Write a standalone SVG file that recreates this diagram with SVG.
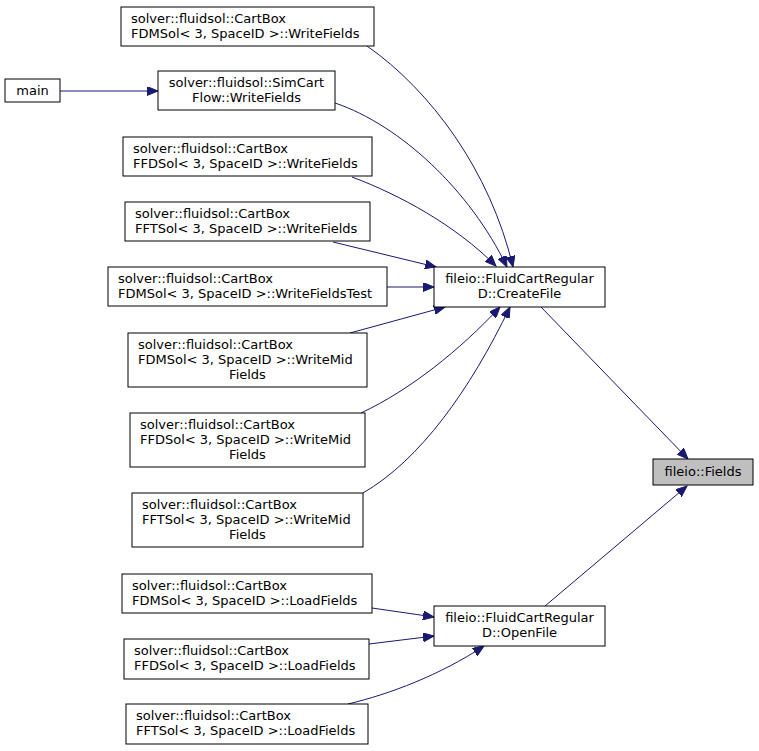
<svg xmlns="http://www.w3.org/2000/svg" width="759" height="751" viewBox="0 0 759 751">
<style>
.n rect{fill:#ffffff;stroke:#000000;stroke-width:1}
.n text{font-family:"DejaVu Sans",sans-serif;font-size:13px;fill:#000000}
.c{text-anchor:middle}
.e path{fill:none;stroke:#191970;stroke-width:1}
</style>
<defs>
<marker id="ah" markerUnits="userSpaceOnUse" markerWidth="12" markerHeight="9" refX="11" refY="4.5" orient="auto">
<path d="M0,0 L11,4.5 L0,9 z" fill="#191970" stroke="#191970" stroke-width="1"/>
</marker>
</defs>
<rect width="759" height="751" fill="#ffffff"/>
<g class="e" id="edges">
<path d="M60,91 L158,91" marker-end="url(#ah)"/>
<path d="M367,46 C430,90 490,170 513,267" marker-end="url(#ah)"/>
<path d="M335,103 C400,125 470,190 507,267" marker-end="url(#ah)"/>
<path d="M352,177 C400,195 455,225 496,266" marker-end="url(#ah)"/>
<path d="M333,242 L436,267" marker-end="url(#ah)"/>
<path d="M387,287 L434,287" marker-end="url(#ah)"/>
<path d="M350,333 L445,307" marker-end="url(#ah)"/>
<path d="M361,413 C410,390 460,350 500,307" marker-end="url(#ah)"/>
<path d="M363,493 C420,460 470,390 510,307" marker-end="url(#ah)"/>
<path d="M541,307 L688,459" marker-end="url(#ah)"/>
<path d="M545,606 L687,486" marker-end="url(#ah)"/>
<path d="M372,608 L434,617" marker-end="url(#ah)"/>
<path d="M369,644 L434,636" marker-end="url(#ah)"/>
<path d="M348,704 C390,694 440,675 484,646" marker-end="url(#ah)"/>
</g>
<g class="n" id="n1"><rect x="121" y="7" width="253" height="39"/><text x="131" y="23">solver::fluidsol::CartBox</text><text x="131" y="38">FDMSol&lt; 3, SpaceID &gt;::WriteFields</text></g>
<g class="n" id="n2"><rect x="5" y="79" width="55" height="23"/><text class="c" x="32.5" y="95">main</text></g>
<g class="n" id="n3"><rect x="158" y="71" width="177" height="39"/><text class="c" x="246.5" y="87">solver::fluidsol::SimCart</text><text class="c" x="246.5" y="102">Flow::WriteFields</text></g>
<g class="n" id="n4"><rect x="123" y="137" width="249" height="39"/><text x="133" y="153">solver::fluidsol::CartBox</text><text x="133" y="168">FFDSol&lt; 3, SpaceID &gt;::WriteFields</text></g>
<g class="n" id="n5"><rect x="125" y="202" width="245" height="39"/><text x="135" y="218">solver::fluidsol::CartBox</text><text x="135" y="233">FFTSol&lt; 3, SpaceID &gt;::WriteFields</text></g>
<g class="n" id="n6"><rect x="108" y="267" width="279" height="39"/><text x="118" y="283">solver::fluidsol::CartBox</text><text x="118" y="298">FDMSol&lt; 3, SpaceID &gt;::WriteFieldsTest</text></g>
<g class="n" id="n7"><rect x="128" y="333" width="239" height="54"/><text x="138" y="349">solver::fluidsol::CartBox</text><text x="138" y="364">FDMSol&lt; 3, SpaceID &gt;::WriteMid</text><text class="c" x="247.5" y="379">Fields</text></g>
<g class="n" id="n8"><rect x="130" y="413" width="235" height="54"/><text x="140" y="429">solver::fluidsol::CartBox</text><text x="140" y="444">FFDSol&lt; 3, SpaceID &gt;::WriteMid</text><text class="c" x="247.5" y="459">Fields</text></g>
<g class="n" id="n9"><rect x="132" y="493" width="231" height="54"/><text x="142" y="509">solver::fluidsol::CartBox</text><text x="142" y="524">FFTSol&lt; 3, SpaceID &gt;::WriteMid</text><text class="c" x="247.5" y="539">Fields</text></g>
<g class="n" id="n10"><rect x="434" y="267" width="171" height="40"/><text class="c" x="519.5" y="283">fileio::FluidCartRegular</text><text class="c" x="519.5" y="298">D::CreateFile</text></g>
<g class="n" id="n11"><rect x="653" y="459" width="100" height="26" style="fill:#bfbfbf"/><text class="c" x="703" y="476">fileio::Fields</text></g>
<g class="n" id="n12"><rect x="122" y="574" width="250" height="39"/><text x="132" y="590">solver::fluidsol::CartBox</text><text x="132" y="605">FDMSol&lt; 3, SpaceID &gt;::LoadFields</text></g>
<g class="n" id="n13"><rect x="434" y="606" width="171" height="40"/><text class="c" x="519.5" y="622">fileio::FluidCartRegular</text><text class="c" x="519.5" y="637">D::OpenFile</text></g>
<g class="n" id="n14"><rect x="124" y="639" width="245" height="40"/><text x="134" y="655">solver::fluidsol::CartBox</text><text x="134" y="670">FFDSol&lt; 3, SpaceID &gt;::LoadFields</text></g>
<g class="n" id="n15"><rect x="126" y="704" width="242" height="40"/><text x="136" y="720">solver::fluidsol::CartBox</text><text x="136" y="735">FFTSol&lt; 3, SpaceID &gt;::LoadFields</text></g>
</svg>
